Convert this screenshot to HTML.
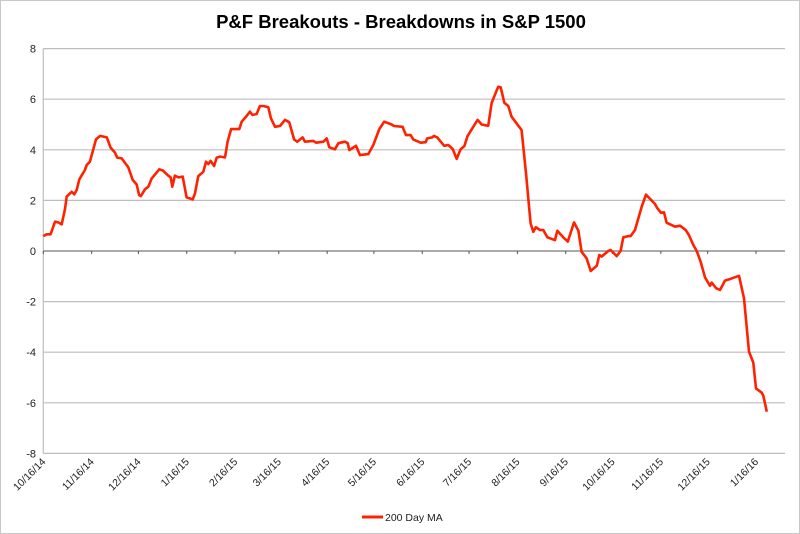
<!DOCTYPE html>
<html><head><meta charset="utf-8"><style>
html,body{margin:0;padding:0;background:#fff;}
svg{display:block;font-family:"Liberation Sans",Arial,sans-serif;}
</style></head><body>
<svg id="chart" width="800" height="534" viewBox="0 0 800 534" xmlns="http://www.w3.org/2000/svg">
<rect x="0.5" y="0.5" width="799" height="533" fill="#fff" stroke="#c8c8c8"/>
<text x="401" y="28" text-anchor="middle" font-size="18.5" font-weight="bold" fill="#000">P&amp;F Breakouts - Breakdowns in S&amp;P 1500</text>
<g id="grid"></g><g id="yticks"></g><g id="xticks"></g><g id="series"></g>
<g>
<line x1="362" y1="517" x2="383" y2="517" stroke="#ff2200" stroke-width="3"/>
<text x="385" y="521" font-size="10.5" fill="#222">200 Day MA</text>
</g>
</svg>
<script>
const tickLabels=["10/16/14","11/16/14","12/16/14","1/16/15","2/16/15","3/16/15","4/16/15","5/16/15","6/16/15","7/16/15","8/16/15","9/16/15","10/16/15","11/16/15","12/16/15","1/16/16"];
const yTicks=[8,6,4,2,0,-2,-4,-6,-8];
const days=[0,2.2,4.7,7.5,9.6,11.8,13.9,15.0,18.2,19.9,21.4,23.1,26.7,27.8,29.9,33.8,36.4,40.7,43.2,46.0,47.4,50.3,54.5,57.3,59.9,61.4,62.6,65.2,67.3,69.5,74.4,76.6,80.1,81.7,82.7,84.4,86.6,89.4,91.9,95.8,97.3,99.4,102.6,104.3,105.8,107.3,109.5,111.2,113.3,116.5,118.2,120.4,125.7,127.2,130.4,132.5,134.0,136.8,138.9,141.1,144.3,146.0,148.6,151.8,155.0,157.7,160.8,162.9,166.3,167.8,173.1,174.9,179.6,181.7,183.4,187.0,189.2,193.5,195.2,196.2,200.5,203.1,208.4,211.6,215.4,218.6,223.4,224.9,230.4,232.6,235.6,237.2,242.0,245.2,246.2,249.4,250.5,252.6,257.1,259.7,262.5,265.1,267.6,270.0,272.1,278.5,281.1,285.3,287.5,291.7,293.3,295.6,298.2,300.3,302.9,306.7,309.5,312.5,314.2,315.9,318.5,320.6,323.2,328.1,329.6,333.4,336.3,340.3,343.1,345.2,348.4,351.0,354.9,356.5,358.0,362.3,363.8,367.7,370.2,371.9,375.1,376.6,379.4,383.7,386.5,392.2,393.7,396.1,398.0,399.7,405.1,408.3,411.9,414.0,416.8,419.0,421.5,424.3,427.5,428.6,431.4,433.9,437.1,439.9,446.1,449.3,452.5,455.3,457.0,460.7,461.7,463.9];
const values=[0.59,0.66,0.66,1.16,1.13,1.05,1.66,2.15,2.34,2.24,2.41,2.83,3.2,3.4,3.53,4.41,4.55,4.49,4.08,3.89,3.69,3.66,3.31,2.81,2.63,2.21,2.17,2.44,2.54,2.87,3.23,3.18,2.98,2.91,2.54,2.98,2.91,2.94,2.12,2.04,2.28,2.96,3.13,3.53,3.44,3.56,3.36,3.69,3.73,3.70,4.32,4.82,4.82,5.11,5.34,5.51,5.38,5.41,5.73,5.73,5.68,5.24,4.91,4.94,5.18,5.09,4.41,4.32,4.49,4.32,4.35,4.28,4.32,4.45,4.10,4.02,4.26,4.32,4.26,3.99,4.16,3.79,3.83,4.19,4.81,5.11,5.0,4.94,4.91,4.58,4.58,4.41,4.28,4.30,4.45,4.49,4.55,4.49,4.16,4.19,4.03,3.64,4.02,4.15,4.55,5.18,5.0,4.95,5.86,6.49,6.47,5.86,5.73,5.31,5.09,4.78,3.07,1.09,0.76,0.94,0.83,0.83,0.54,0.43,0.80,0.54,0.37,1.13,0.80,-0.03,-0.29,-0.79,-0.58,-0.16,-0.22,0.0,0.04,-0.20,0,0.54,0.59,0.59,0.83,1.75,2.23,1.86,1.69,1.51,1.53,1.12,0.96,1.00,0.83,0.63,0.24,0,-0.42,-1.04,-1.38,-1.25,-1.47,-1.54,-1.17,-1.12,-0.98,-1.87,-3.98,-4.41,-5.43,-5.60,-5.72,-6.35,-6.19];

const NS="http://www.w3.org/2000/svg";
const L=43.3,R=785,PXDAY=1.5595;
const x=d=>L+d*PXDAY;
const y=v=>251-v*25.3;
const mk=(t,a,p)=>{const e=document.createElementNS(NS,t);for(const k in a)e.setAttribute(k,a[k]);p.appendChild(e);return e;};
const grid=document.getElementById('grid'),yt=document.getElementById('yticks'),xt=document.getElementById('xticks'),ser=document.getElementById('series');
yTicks.forEach(v=>{
  if(v!==0){const g=mk('line',{x1:L,x2:R,y1:y(v),y2:y(v),stroke:'#bdbdbd','stroke-width':1.2},grid);
  
  }
  const t=mk('text',{x:36,y:y(v)+4,'text-anchor':'end','font-size':11,fill:'#222'},yt);
  t.textContent=v;
  
  
});
const la=mk('line',{x1:L,x2:L,y1:y(8),y2:y(-8),stroke:'#bdbdbd','stroke-width':1.2},grid);


const za=mk('line',{x1:L,x2:R,y1:y(0),y2:y(0),stroke:'#777','stroke-width':1.2},grid);


const base=Date.UTC(2014,9,16);
tickLabels.forEach(s=>{
  const p=s.split('/');const d=(Date.UTC(2000+ +p[2],+p[0]-1,+p[1])-base)/86400000;
  const tx=x(d);
  const tk=mk('line',{x1:tx,x2:tx,y1:y(0),y2:y(0)+3,stroke:'#555'},xt);
  
  
  const t=mk('text',{x:tx+3,y:y(-8)+9,'text-anchor':'end','font-size':10.5,fill:'#222',transform:`rotate(-45 ${tx+3} ${y(-8)+9})`},xt);
  t.textContent=s;
  
  
});
const pts=days.map((d,i)=>x(d).toFixed(1)+','+y(values[i]).toFixed(1)).join(' ');
const pl=mk('polyline',{points:pts,fill:'none',stroke:'#ff2200','stroke-width':2.6,'stroke-linejoin':'round'},ser);


</script>
</body></html>
